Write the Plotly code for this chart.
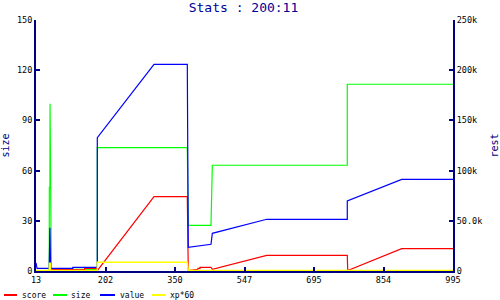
import plotly.graph_objects as go

# x positions on an index scale (0..600); tick labels show the original values
x_tickvals = [0, 100, 200, 300, 400, 500, 600]
x_ticktext = ["13", "202", "350", "547", "695", "854", "995"]

left_ticks = [0, 30, 60, 90, 120, 150]
right_tickvals = [0, 50000, 100000, 150000, 200000, 250000]
right_ticktext = ["0", "50.0k", "100k", "150k", "200k", "250k"]

series_names = ["score", "size", "value", "xp*60"]
series_colors = ["#ff0000", "#00ff00", "#0000ff", "#ffff00"]

score_x = [0, 22, 22, 70, 70, 87, 88.2, 169.8, 217.7, 218.3, 219.1, 233, 233, 236, 236, 251.8, 253.7, 332, 447.9, 448.5, 526.2, 600]
score_y = [500, 500, 1500, 1500, 2700, 2700, 300, 74000, 74000, 39000, 500, 1700, 2700, 2700, 3700, 3700, 1700, 15600, 15600, 500, 22200, 22200]

size_x = [0, 19, 19.2, 20, 20.2, 21, 22, 88.2, 88.2, 217.7, 218.5, 219.1, 251.8, 252.5, 253.7, 447.9, 447.9, 600]
size_y = [0, 0, 50, 50, 100, 1, 1, 1, 73.7, 73.7, 50.6, 27.3, 27.3, 45.8, 63.2, 63.2, 111.6, 111.6]

value_x = [0, 0.5, 1.5, 19, 20, 21, 53, 53, 88.2, 88.2, 169.8, 217.7, 218.3, 219.1, 251.8, 253.7, 332, 447.9, 447.9, 526.2, 600]
value_y = [8000, 3000, 2700, 2700, 43000, 2700, 2700, 3700, 3700, 132800, 205900, 205900, 114500, 23600, 26600, 37500, 51500, 51500, 69700, 91300, 91300]

xp_x = [0, 19, 19.5, 20.5, 21, 88.2, 88.2, 217.7, 219.1, 600]
xp_y = [600, 600, 7700, 7700, 600, 600, 8700, 8700, 500, 500]

NAVY = "#000080"
TITLE_BLUE = "#000099"
MONO = "DejaVu Sans Mono"

# plot-area geometry in pixels
W, H = 500, 300
ML, MR, MT, MB = 36, 47, 20, 29
PW, PH = W - ML - MR, H - MT - MB

fig = go.Figure()
data = [(score_x, score_y, "y2", 1.2), (size_x, size_y, "y", 1.2),
        (value_x, value_y, "y2", 1.2), (xp_x, xp_y, "y2", 1.5)]
for (xs, ys, ax, lw), name, col in zip(data, series_names, series_colors):
    fig.add_trace(go.Scatter(x=xs, y=ys, name=name, mode="lines",
                             line=dict(color=col, width=lw), yaxis=ax, showlegend=False))

axis_common = dict(showgrid=False, zeroline=False, showline=True, linecolor=NAVY, linewidth=2,
                   ticks="inside", ticklen=4, tickwidth=2, tickcolor=NAVY,
                   tickfont=dict(family=MONO, size=8.5, color="black"))

# custom compact legend below the plot (pixel layout converted to paper coords)
legend_line_px = [(4, 17), (53, 67), (100, 115), (152, 165)]
legend_text_px = [20, 69, 118, 168]
legend_y_px = 295


def px_x(p):
    return (p - ML) / PW


def px_y(p):
    return (H - MB - p) / PH


shapes = []
annotations = []
for (x0, x1), tx, name, col in zip(legend_line_px, legend_text_px, series_names, series_colors):
    shapes.append(dict(type="line", xref="paper", yref="paper",
                       x0=px_x(x0), x1=px_x(x1), y0=px_y(legend_y_px), y1=px_y(legend_y_px),
                       line=dict(color=col, width=2)))
    annotations.append(dict(text=name, xref="paper", yref="paper", x=px_x(tx), y=px_y(legend_y_px),
                            xanchor="left", yanchor="middle", showarrow=False,
                            font=dict(family=MONO, size=8, color="black")))

fig.update_layout(
    width=W, height=H,
    margin=dict(l=ML, r=MR, t=MT, b=MB, autoexpand=False),
    paper_bgcolor="white", plot_bgcolor="white",
    title=dict(text="Stats : 200:11", x=0.487, xanchor="center", y=0.99, yanchor="top",
               font=dict(family=MONO, size=13, color=TITLE_BLUE)),
    xaxis=dict(range=[0, 600], tickvals=x_tickvals, ticktext=x_ticktext, **axis_common),
    yaxis=dict(range=[0, 150], tickvals=left_ticks,
               title=dict(text="size", font=dict(family=MONO, size=10, color=NAVY), standoff=10),
               **axis_common),
    yaxis2=dict(range=[0, 250000], tickvals=right_tickvals, ticktext=right_ticktext,
                overlaying="y", side="right",
                title=dict(text="rest", font=dict(family=MONO, size=10, color=NAVY), standoff=10),
                **axis_common),
    showlegend=False,
    shapes=shapes,
    annotations=annotations,
)

fig.write_html("out.html")
